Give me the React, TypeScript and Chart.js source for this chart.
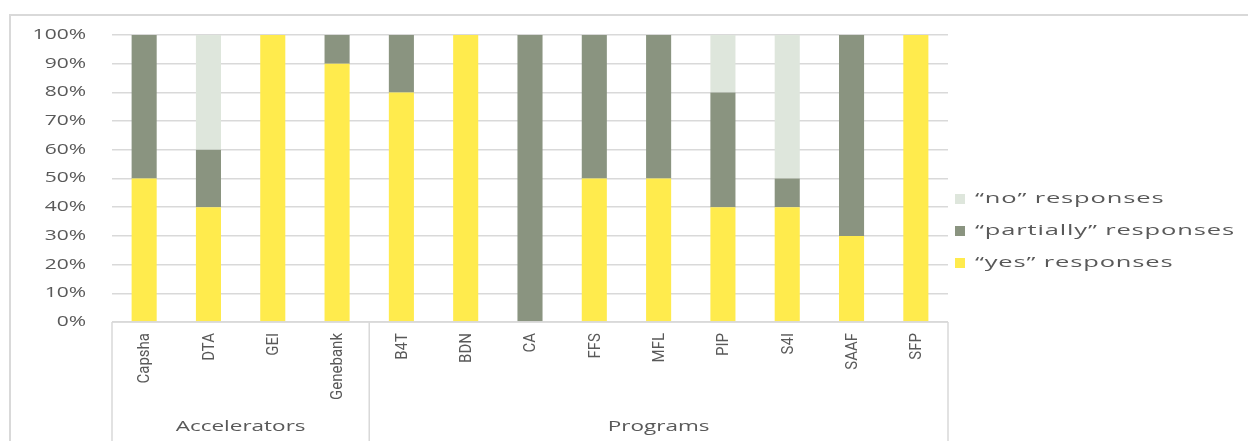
import React, { useEffect, useRef } from "react";
import { Chart, registerables } from "chart.js";

Chart.register(...registerables);

const categories = ["Capsha", "DTA", "GEI", "Genebank", "B4T", "BDN", "CA", "FFS", "MFL", "PIP", "S4I", "SAAF", "SFP"];
const groupNames = ["Accelerators", "Programs"];
const groupSizes = [4, 9];
const yesValues = [50, 40, 100, 90, 80, 100, 0, 50, 50, 40, 40, 30, 100];
const partialValues = [50, 20, 0, 10, 20, 0, 100, 50, 50, 40, 10, 70, 0];
const noValues = [0, 40, 0, 0, 0, 0, 0, 0, 0, 20, 50, 0, 0];
const seriesLabels = ["\u201cyes\u201d responses", "\u201cpartially\u201d responses", "\u201cno\u201d responses"];
const seriesColors = ["#FFEB4D", "#8A9480", "#DEE6DC"];

const GRID = "#d9d9d9";
const TEXT = "#595959";

function wideText(ctx: any, text: string, x: number, y: number, align: string, stretch: number, spacing: number) {
  ctx.save();
  ctx.translate(x, y);
  ctx.scale(stretch, 1);
  ctx.letterSpacing = spacing + "px";
  ctx.textAlign = align;
  ctx.textBaseline = "middle";
  ctx.fillText(text, 0, 0);
  ctx.restore();
}

const overlayPlugin = {
  id: "overlay",
  afterDraw(chart: any) {
    const ctx = chart.ctx;
    const area = chart.chartArea;
    const xs = chart.scales.x;
    const ys = chart.scales.y;
    const H = chart.height;
    const W = chart.width;
    ctx.save();
    // outer frame
    ctx.strokeStyle = GRID;
    ctx.lineWidth = 2;
    ctx.beginPath();
    ctx.moveTo(10, H);
    ctx.lineTo(10, 15);
    ctx.lineTo(W, 15);
    ctx.stroke();

    // category axis box
    ctx.lineWidth = 1.5;
    ctx.beginPath();
    ctx.moveTo(area.left, area.bottom);
    ctx.lineTo(area.right, area.bottom);
    const bounds: number[] = [area.left];
    let idx = 0;
    groupSizes.forEach((n) => {
      idx += n;
      if (idx < categories.length) {
        const a = xs.getPixelForValue(idx - 1);
        const b = xs.getPixelForValue(idx);
        bounds.push((a + b) / 2);
      } else {
        bounds.push(area.right);
      }
    });
    bounds.forEach((bx) => {
      ctx.moveTo(bx, area.bottom);
      ctx.lineTo(bx, H);
    });
    ctx.stroke();

    // y tick labels
    ctx.fillStyle = TEXT;
    ctx.font = "14px 'Open Sans'";
    ys.ticks.forEach((t: any) => {
      wideText(ctx, t.value + "%", 86, ys.getPixelForValue(t.value), "right", 1.5, 0);
    });

    // rotated category labels
    ctx.font = "15px Roboto";
    ctx.textAlign = "right";
    ctx.textBaseline = "middle";
    categories.forEach((c, i) => {
      const x = xs.getPixelForValue(i);
      ctx.save();
      ctx.translate(x + 1, area.bottom + 11);
      ctx.rotate(-Math.PI / 2);
      ctx.scale(1, 1.15);
      ctx.fillText(c, 0, 0);
      ctx.restore();
    });

    // group labels
    ctx.font = "15px 'Open Sans'";
    groupNames.forEach((g, i) => {
      const cx = (bounds[i] + bounds[i + 1]) / 2;
      wideText(ctx, g, cx, 427, "center", 1.5, 0);
    });

    // legend (reversed order)
    const ds = chart.data.datasets;
    const legendY = [199, 231, 263];
    for (let k = 0; k < ds.length; k++) {
      const d = ds[ds.length - 1 - k];
      const y = legendY[k];
      ctx.fillStyle = d.backgroundColor;
      ctx.fillRect(955, y - 5, 10, 10);
      ctx.fillStyle = TEXT;
      ctx.font = "15px 'Open Sans'";
      wideText(ctx, d.label, 975, y, "left", 1.7, 0.5);
    }
    ctx.restore();
  },
};

export default function App() {
  const ref = useRef<HTMLCanvasElement>(null);
  useEffect(() => {
    document.body.style.margin = "0";
    const canvas = ref.current!;
    const chart = new Chart(canvas, {
      type: "bar",
      data: {
        labels: categories,
        datasets: [
          { label: seriesLabels[0], data: yesValues, backgroundColor: seriesColors[0] },
          { label: seriesLabels[1], data: partialValues, backgroundColor: seriesColors[1] },
          { label: seriesLabels[2], data: noValues, backgroundColor: seriesColors[2] },
        ],
      },
      options: {
        responsive: false,
        animation: false,
        devicePixelRatio: 1,
        layout: { padding: { left: 0, top: 35, right: 300, bottom: 119 } },
        datasets: { bar: { barPercentage: 0.39, categoryPercentage: 1 } },
        plugins: { legend: { display: false }, tooltip: { enabled: false } },
        scales: {
          x: {
            stacked: true,
            afterFit: (s: any) => {
              s.height = 0;
            },
            ticks: { display: false },
            grid: { display: false },
            border: { display: false },
          },
          y: {
            stacked: true,
            min: 0,
            max: 100,
            afterFit: (s: any) => {
              s.width = 112;
            },
            ticks: { stepSize: 10, display: false },
            grid: { color: GRID, lineWidth: 1.5, drawTicks: false },
            border: { display: false },
          },
        },
      },
      plugins: [overlayPlugin],
    } as any);
    return () => chart.destroy();
  }, []);
  return (
    <div style={{ width: 1248, height: 441 }}>
      <canvas ref={ref} width={1248} height={441} style={{ display: "block" }} />
    </div>
  );
}
